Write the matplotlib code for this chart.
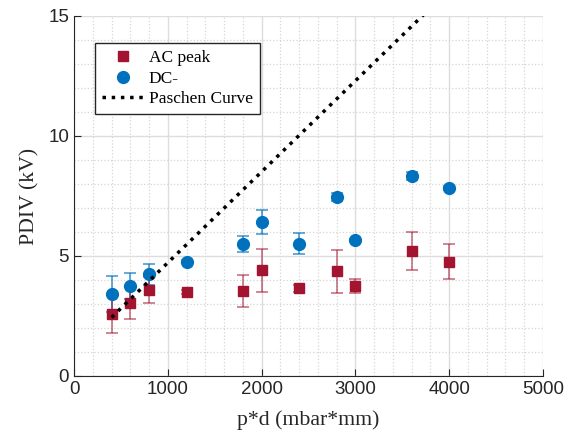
import numpy as np
import matplotlib.pyplot as plt
from matplotlib.ticker import MultipleLocator

# AC peak data (kV)
ac_x = [400, 600, 800, 1200, 1800, 2000, 2400, 2800, 3000, 3600, 4000]
ac_y = [2.6, 3.04, 3.58, 3.5, 3.54, 4.41, 3.66, 4.37, 3.75, 5.21, 4.77]
ac_err = [0.8, 0.65, 0.54, 0.08, 0.68, 0.9, 0.15, 0.9, 0.29, 0.79, 0.73]

# DC- data (kV)
dc_x = [400, 600, 800, 1200, 1800, 2000, 2400, 2800, 3000, 3600, 4000]
dc_y = [3.42, 3.75, 4.24, 4.77, 5.5, 6.4, 5.52, 7.46, 5.67, 8.33, 7.83]
dc_err = [0.75, 0.54, 0.43, 0.08, 0.32, 0.5, 0.43, 0.17, 0.05, 0.17, 0.1]

# Paschen curve
pa_x = [400, 1000, 2000, 3000, 4000]
pa_y = [2.44, 4.72, 8.51, 12.30, 16.09]

plt.rcParams['font.family'] = ['Liberation Serif', 'DejaVu Serif']

red = '#A2142F'
blue = '#0072BD'

fig = plt.figure(figsize=(5.75, 4.37), dpi=100)
ax = fig.add_axes([74/575, 1-376/437, 469/575, 360/437])

ax.errorbar(dc_x, dc_y, yerr=dc_err, fmt='none', ecolor=blue, alpha=0.7,
            elinewidth=1.2, capsize=4, capthick=1.2, zorder=3)
ax.errorbar(ac_x, ac_y, yerr=ac_err, fmt='none', ecolor=red, alpha=0.6,
            elinewidth=1.2, capsize=4, capthick=1.2, zorder=3)
ax.plot(ac_x, ac_y, 's', color=red, markersize=6.5, label='AC peak', zorder=4)
ax.plot(dc_x, dc_y, 'o', color=blue, markersize=8.5, label='DC-', zorder=4)
ax.plot(pa_x, pa_y, ':', color='black', linewidth=2.5, label='Paschen Curve', zorder=5)

ax.set_xlim(0, 5000)
ax.set_ylim(0, 15)
ax.xaxis.set_major_locator(MultipleLocator(1000))
ax.xaxis.set_minor_locator(MultipleLocator(200))
ax.yaxis.set_major_locator(MultipleLocator(5))
ax.yaxis.set_minor_locator(MultipleLocator(1))
ax.grid(True, which='major', color='#dddddd', linewidth=1)
ax.grid(True, which='minor', color='#d5d5d5', linestyle=':', linewidth=0.9)
ax.set_axisbelow(True)
ax.tick_params(which='both', direction='in', labelsize=13.5, colors='#262626')
ax.tick_params(which='major', length=5)
ax.tick_params(which='minor', length=0)
for lab in ax.get_xticklabels() + ax.get_yticklabels():
    lab.set_family(['Liberation Sans', 'DejaVu Sans'])
ax.spines['top'].set_visible(False)
ax.spines['right'].set_visible(False)
for s in ['left', 'bottom']:
    ax.spines[s].set_color('#262626')

ax.set_xlabel('p*d (mbar*mm)', fontsize=15.7, color='#262626', labelpad=9)
ax.set_ylabel('PDIV (kV)', fontsize=15.7, color='#262626', labelpad=6.5)

leg = ax.legend(loc='upper left', bbox_to_anchor=(0.045, 0.925), borderaxespad=0,
                fontsize=12.5, fancybox=False, edgecolor='#262626', framealpha=1,
                handlelength=2.4, handletextpad=0.3, borderpad=0.4,
                labelspacing=0.25)
leg.get_frame().set_linewidth(1)

fig.savefig('out.png', dpi=100)
